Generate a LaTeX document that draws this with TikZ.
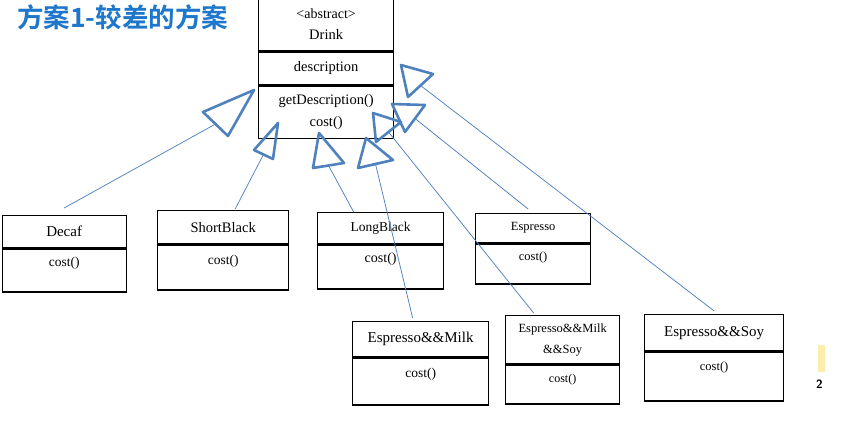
\documentclass[tikz,border=0pt]{standalone}
\usepackage{fontspec}
\setmainfont{Liberation Serif}
\newfontfamily\cjk{Noto Sans CJK SC}[BoldFont={Noto Sans CJK SC Bold}]
\usepackage{xcolor}

\definecolor{titleblue}{RGB}{31,119,203}
\definecolor{umlblue}{RGB}{79,129,189}
\definecolor{folder}{RGB}{250,238,170}

\newcommand{\fsz}[1]{\fontsize{#1}{#1}\selectfont}

\tikzset{
  cls/.style={draw, line width=1.3pt, inner sep=0pt, align=center},
  meth/.style={inner sep=0pt},
  tri/.style={draw=umlblue, line width=2.6pt, line join=round},
  link/.style={draw=umlblue, line width=0.75pt},
}

\begin{document}
\begin{tikzpicture}[x=1pt, y=-1pt]
    \useasboundingbox (0,0) rectangle (842,423);

    % title
    \node[anchor=west, inner sep=0pt, text=titleblue, font=\cjk\bfseries\fsz{26.5}] (title) at (17,17) {方案1-较差的方案};

    % the abstract class
    \node[cls, anchor=north west, minimum width=135pt, minimum height=53pt, font=\fontsize{14.5}{21}\selectfont] (drink) at (258,-3) {{\fsz{14}<abstract>}\\Drink};
    \node[cls, anchor=north, minimum width=135pt, minimum height=33pt, font=\fsz{14.5}] (drinka) at (drink.south) {description};
    \node[cls, anchor=north, minimum width=135pt, minimum height=52pt, font=\fontsize{14.5}{22}\selectfont] (drinkm) at (drinka.south) {getDescription()\\cost()};

    % the subclasses
    \node[cls, anchor=north west, minimum width=124pt, minimum height=32pt, font=\fsz{15}] (decaf) at (1.5,215) {Decaf};
    \node[cls, anchor=north, minimum width=124pt, minimum height=43pt] (decafb) at (decaf.south) {};
    \node[meth, font=\fsz{13.5}] (decafc) at ([yshift=-15pt]decaf.south) {cost()};

    \node[cls, anchor=north west, minimum width=131pt, minimum height=33pt, font=\fsz{14.5}] (sb) at (157,210) {ShortBlack};
    \node[cls, anchor=north, minimum width=131pt, minimum height=45pt] (sbb) at (sb.south) {};
    \node[meth, font=\fsz{13.5}] (sbc) at ([yshift=-17pt]sb.south) {cost()};

    \node[cls, anchor=north west, minimum width=126pt, minimum height=31pt, font=\fsz{13.5}] (lb) at (317,212) {LongBlack};
    \node[cls, anchor=north, minimum width=126pt, minimum height=44pt] (lbb) at (lb.south) {};
    \node[meth, font=\fsz{14}] (lbc) at ([yshift=-15pt]lb.south) {cost()};

    \node[cls, anchor=north west, minimum width=115pt, minimum height=29pt, font=\fsz{12.5}] (es) at (475,213) {Espresso};
    \node[cls, anchor=north, minimum width=115pt, minimum height=40pt] (esb) at (es.south) {};
    \node[meth, font=\fsz{12.5}] (esc) at ([yshift=-14pt]es.south) {cost()};

    \node[cls, anchor=north west, minimum width=136pt, minimum height=35pt, font=\fsz{15}] (milk) at (352,321) {Espresso\&\&Milk};
    \node[cls, anchor=north, minimum width=136pt, minimum height=47pt] (milkb) at (milk.south) {};
    \node[meth, font=\fsz{13.5}] (milkc) at ([yshift=-17pt]milk.south) {cost()};

    \node[cls, anchor=north west, minimum width=114pt, minimum height=48pt, font=\fontsize{12.5}{21}\selectfont] (ms) at (505,315) {Espresso\&\&Milk\\\&\&Soy};
    \node[cls, anchor=north, minimum width=114pt, minimum height=39pt] (msb) at (ms.south) {};
    \node[meth, font=\fsz{12}] (msc) at ([yshift=-15pt]ms.south) {cost()};

    \node[cls, anchor=north west, minimum width=139pt, minimum height=36pt, font=\fsz{15}] (soy) at (644,314) {Espresso\&\&Soy};
    \node[cls, anchor=north, minimum width=139pt, minimum height=49pt] (soyb) at (soy.south) {};
    \node[meth, font=\fsz{12.5}] (soyc) at ([yshift=-16pt]soy.south) {cost()};

    % hollow triangles, one per subclass
    \draw[tri] (254,90) -- (203,112) -- (228,136) -- cycle;
    \draw[tri] (278,123) -- (254,150) -- (273,159) -- cycle;
    \draw[tri] (319,133) -- (313,168) -- (344,163) -- cycle;
    \draw[tri] (366,138) -- (358,168) -- (393,160) -- cycle;
    \draw[tri] (373,113) -- (376,142) -- (401,122) -- cycle;
    \draw[tri] (392,104) -- (405,132) -- (425,105) -- cycle;
    \draw[tri] (401,65) -- (408,97) -- (433,74) -- cycle;
    \coordinate (tdecaf) at (215.5,124);
    \coordinate (tsb) at (263.5,154.5);
    \coordinate (tlb) at (328.5,165.5);
    \coordinate (tmilk) at (375.5,164);
    \coordinate (tms) at (388.5,132);
    \coordinate (tes) at (415,118.5);
    \coordinate (tsoy) at (420.5,85.5);

    % links
    \draw[link] (tdecaf) -- ([yshift=7pt]decaf.north);
    \draw[link] (tsb) -- ([xshift=12pt,yshift=1pt]sb.north);
    \draw[link] (tlb) -- ([xshift=-27pt]lb.north);
    \draw[link] (tmilk) -- ([xshift=-8pt,yshift=3pt]milk.north);
    \draw[link] (tms) -- ([xshift=-29pt,yshift=2pt]ms.north);
    \draw[link] (tes) -- ([xshift=-5pt,yshift=4pt]es.north);
    \draw[link] (tsoy) -- ([yshift=3pt]soy.north);

    % cut-off desktop icon at the right edge
    \fill[folder] (818,345) rectangle (825,372);
    \node[anchor=west, inner sep=0pt, font=\sffamily\bfseries\fsz{12}] (page) at (816,384) {2};
\end{tikzpicture}
\end{document}
